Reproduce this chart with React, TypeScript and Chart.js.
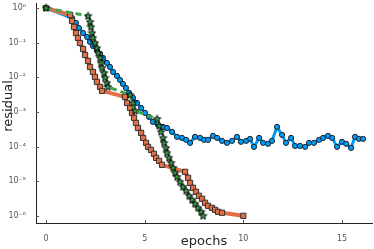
import React, { useEffect, useRef } from "react";
import { Chart, registerables } from "chart.js";

Chart.register(...registerables);

// ---- data ----
const blueX = [0, 1.32, 1.52, 1.67, 1.88, 2.08, 2.23, 2.38, 2.58, 2.74, 2.89, 3.09, 3.24, 3.40, 3.60, 3.75, 3.90, 4.05, 4.21, 4.41, 4.61, 4.82, 5.02, 5.22, 5.42, 5.68, 5.93, 6.13, 6.39, 6.64, 6.89, 7.10, 7.30, 7.55, 7.81, 8.01, 8.21, 8.46, 8.67, 8.92, 9.17, 9.43, 9.68, 9.88, 10.14, 10.34, 10.54, 10.80, 11.00, 11.25, 11.45, 11.71, 11.96, 12.16, 12.42, 12.62, 12.87, 13.13, 13.33, 13.58, 13.84, 14.04, 14.29, 14.50, 14.75, 15.00, 15.21, 15.46, 15.66, 15.86, 16.07];
const blueY = [1, 0.515, 0.370, 0.265, 0.190, 0.146, 0.105, 0.0803, 0.0617, 0.0472, 0.0362, 0.0260, 0.0200, 0.0143, 0.0110, 0.00841, 0.00645, 0.00495, 0.00355, 0.00255, 0.00183, 0.00131, 0.000942, 0.000722, 0.000518, 0.000425, 0.000372, 0.000348, 0.000267, 0.000192, 0.000179, 0.000157, 0.000129, 0.000192, 0.000179, 0.000157, 0.000157, 0.000205, 0.000179, 0.000147, 0.000129, 0.000147, 0.000192, 0.000138, 0.000147, 0.000168, 0.0000986, 0.000179, 0.000129, 0.000121, 0.000147, 0.000372, 0.000219, 0.000129, 0.000179, 0.000105, 0.000105, 0.0000986, 0.000129, 0.000129, 0.000157, 0.000179, 0.000205, 0.000179, 0.0000986, 0.000138, 0.000121, 0.0000923, 0.000192, 0.000168, 0.000168];

const orangeX = [0, 1.22, 1.32, 1.42, 1.52, 1.62, 1.72, 1.88, 1.98, 2.13, 2.23, 2.38, 2.48, 2.58, 2.74, 2.84, 4.00, 4.11, 4.26, 4.36, 4.46, 4.56, 4.66, 4.82, 4.92, 5.07, 5.17, 5.32, 5.47, 5.58, 5.73, 5.88, 7.05, 7.20, 7.30, 7.45, 7.60, 7.75, 7.91, 8.06, 8.21, 8.41, 8.57, 8.72, 8.92, 10.0];
const orangeY = [1, 0.628, 0.422, 0.284, 0.190, 0.137, 0.0980, 0.0658, 0.0442, 0.0297, 0.0199, 0.0143, 0.0103, 0.00737, 0.00529, 0.00406, 0.00272, 0.00183, 0.00131, 0.000942, 0.000676, 0.000485, 0.000348, 0.000250, 0.000179, 0.000129, 0.0000987, 0.0000809, 0.0000620, 0.0000476, 0.0000390, 0.0000299, 0.0000188, 0.0000126, 0.00000905, 0.00000650, 0.00000498, 0.00000382, 0.00000313, 0.00000240, 0.00000197, 0.00000172, 0.00000151, 0.00000132, 0.00000124, 0.00000101];

const greenX = [0, 2.13, 2.23, 2.28, 2.33, 2.38, 2.48, 2.58, 2.64, 2.74, 2.79, 2.84, 2.94, 2.99, 3.09, 3.14, 4.26, 4.41, 4.51, 5.63, 5.73, 5.83, 5.93, 5.98, 6.08, 6.13, 6.23, 6.34, 6.44, 6.54, 6.64, 6.79, 6.94, 7.10, 7.25, 7.40, 7.55, 7.70, 7.86, 7.96];
const greenY = [1, 0.588, 0.395, 0.284, 0.190, 0.137, 0.0980, 0.0704, 0.0505, 0.0362, 0.0260, 0.0187, 0.0134, 0.00961, 0.00690, 0.00529, 0.00311, 0.00183, 0.00108, 0.000633, 0.000398, 0.000267, 0.000179, 0.000129, 0.0000924, 0.0000663, 0.0000476, 0.0000341, 0.0000245, 0.0000176, 0.0000135, 0.00000967, 0.00000694, 0.00000532, 0.00000382, 0.00000293, 0.00000225, 0.00000172, 0.00000132, 0.00000101];

const xTicks = [0, 5, 10, 15];
const yTickExps = [0, -1, -2, -3, -4, -5, -6];
const xTitle = "epochs";
const yTitle = "residual";

const BLUE = "#009af9";
const ORANGE = "#e26f46";
const GREEN = "#3da44d";
const FONT = "'DejaVu Sans', sans-serif";

const SUP: Record<string, string> = { "0": "⁰", "1": "¹", "2": "²", "3": "³", "4": "⁴", "5": "⁵", "6": "⁶", "7": "⁷", "8": "⁸", "9": "⁹", "-": "⁻" };
const sup = (n: number) => String(n).split("").map((c) => SUP[c] || c).join("");

function makeStar(): HTMLCanvasElement {
  const c = document.createElement("canvas");
  c.width = 9;
  c.height = 9;
  const ctx = c.getContext("2d")!;
  const cx = 4.5, cy = 4.7, ro = 3.9, ri = 1.7;
  ctx.beginPath();
  for (let i = 0; i < 10; i++) {
    const r = i % 2 === 0 ? ro : ri;
    const a = -Math.PI / 2 + (i * Math.PI) / 5;
    const px = cx + r * Math.cos(a);
    const py = cy + r * Math.sin(a);
    if (i === 0) ctx.moveTo(px, py);
    else ctx.lineTo(px, py);
  }
  ctx.closePath();
  ctx.fillStyle = GREEN;
  ctx.fill();
  ctx.lineWidth = 1;
  ctx.strokeStyle = "#000";
  ctx.stroke();
  return c;
}

const pts = (xs: number[], ys: number[]) => xs.map((x, i) => ({ x, y: ys[i] }));

export default function App() {
  const ref = useRef<HTMLCanvasElement>(null);
  useEffect(() => {
    if (!ref.current) return;
    Chart.defaults.font.family = FONT;
    const star = makeStar();
    const decor = {
      id: "decor",
      afterDraw(chart: any) {
        const { ctx, chartArea, scales } = chart;
        ctx.save();
        ctx.strokeStyle = "#555";
        ctx.lineWidth = 1;
        ctx.beginPath();
        for (const v of xTicks) {
          const px = Math.round(scales.x.getPixelForValue(v)) + 0.5;
          ctx.moveTo(px, chartArea.bottom);
          ctx.lineTo(px, chartArea.bottom - 3);
        }
        for (const e of yTickExps) {
          const py = Math.round(scales.y.getPixelForValue(Math.pow(10, e))) + 0.5;
          ctx.moveTo(chartArea.left, py);
          ctx.lineTo(chartArea.left + 3, py);
        }
        ctx.stroke();
        // y axis title
        ctx.translate(9, 106);
        ctx.rotate(-Math.PI / 2);
        ctx.font = "13px " + FONT;
        ctx.fillStyle = "#222";
        ctx.textAlign = "center";
        ctx.textBaseline = "middle";
        ctx.fillText(yTitle, 0, 0);
        ctx.restore();
      },
    };
    const chart = new Chart(ref.current, {
      type: "line",
      data: {
        datasets: [
          {
            label: "c",
            data: pts(greenX, greenY),
            borderColor: GREEN,
            borderWidth: 3,
            borderDash: [6, 4],
            pointStyle: star as any,
            pointRadius: 4,
            order: 1,
            fill: false,
          },
          {
            label: "b",
            data: pts(orangeX, orangeY),
            borderColor: ORANGE,
            borderWidth: 4,
            pointStyle: "rect",
            pointRadius: 3.7,
            pointBackgroundColor: ORANGE,
            pointBorderColor: "#333",
            pointBorderWidth: 1,
            order: 2,
            fill: false,
          },
          {
            label: "a",
            data: pts(blueX, blueY),
            borderColor: BLUE,
            borderWidth: 3,
            pointStyle: "circle",
            pointRadius: 2.6,
            pointBackgroundColor: BLUE,
            pointBorderColor: "#222",
            pointBorderWidth: 1,
            order: 3,
            fill: false,
          },
        ],
      },
      options: {
        animation: false,
        responsive: true,
        maintainAspectRatio: false,
        layout: { autoPadding: false, padding: { top: 3, right: 2, left: 0, bottom: 0 } },
        plugins: { legend: { display: false }, tooltip: { enabled: false } },
        elements: { line: { tension: 0 } },
        scales: {
          x: {
            type: "linear",
            min: -0.507,
            max: 16.52,
            grid: { display: false },
            border: { display: true, color: "#222", width: 1 },
            ticks: { font: { size: 8 }, color: "#555", padding: 3, maxRotation: 0 },
            afterBuildTicks: (s: any) => {
              s.ticks = xTicks.map((v) => ({ value: v }));
            },
            afterFit: (s: any) => {
              s.height = 26;
              s.paddingLeft = 0;
              s.paddingRight = 0;
            },
            title: { display: true, text: xTitle, font: { size: 13 }, color: "#222", padding: { top: 0, bottom: 0 } },
          },
          y: {
            type: "logarithmic",
            min: Math.pow(10, -6.202),
            max: Math.pow(10, 0.144),
            grid: { display: false },
            border: { display: true, color: "#222", width: 1 },
            ticks: {
              font: { size: 8 },
              color: "#555",
              padding: 2,
              callback: (v: any) => "10" + sup(Math.round(Math.log10(Number(v)))),
            },
            afterBuildTicks: (s: any) => {
              s.ticks = yTickExps.map((e) => ({ value: Math.pow(10, e) }));
            },
            afterFit: (s: any) => {
              s.width = 36;
              s.paddingTop = 0;
              s.paddingBottom = 0;
            },
            title: { display: false },
          },
        },
      },
      plugins: [decor],
    });
    return () => chart.destroy();
  }, []);
  return (
    <div style={{ position: "absolute", left: 0, top: 0, width: 374, height: 249, background: "#fff" }}>
      <canvas ref={ref} />
    </div>
  );
}
